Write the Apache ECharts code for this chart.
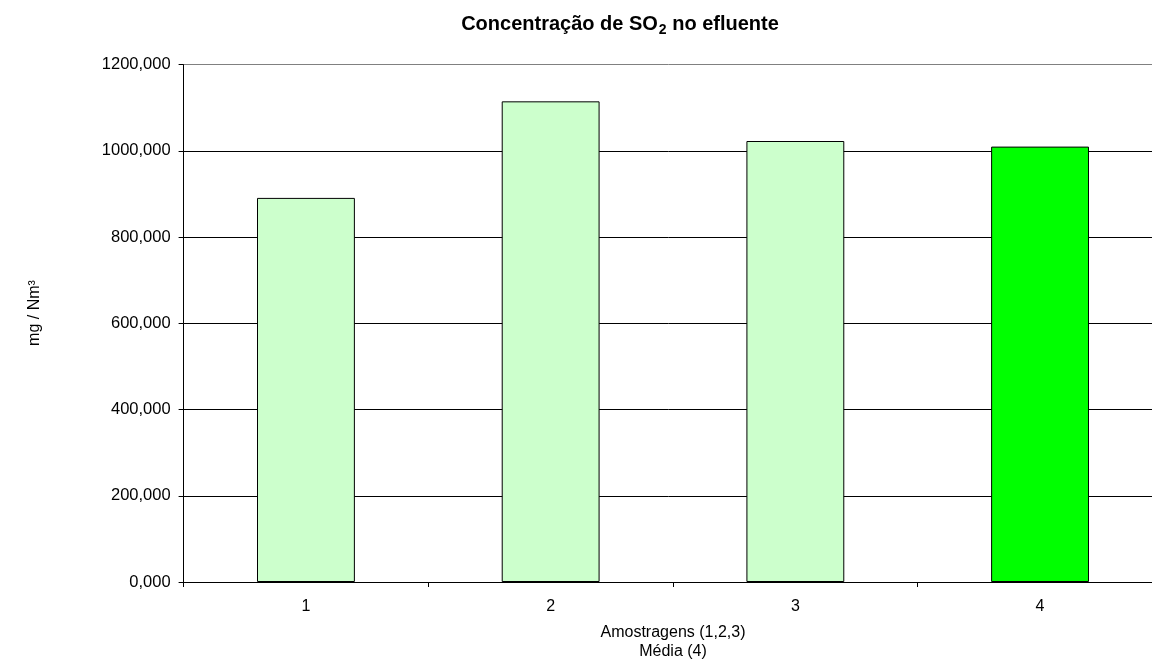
<!DOCTYPE html>
<html>
<head>
<meta charset="utf-8">
<script src="https://cdn.jsdelivr.net/npm/echarts@6/dist/echarts.min.js"></script>
<style>
html,body{margin:0;padding:0;background:#fff;}
#chart{width:1152px;height:661px;}
</style>
</head>
<body>
<div id="chart"></div>
<script>
const categories = ['1', '2', '3', '4'];
const values = [891, 1115, 1023, 1010];
const barColors = ['#CCFFCC', '#CCFFCC', '#CCFFCC', '#00FF00'];
const yTicks = [0, 200, 400, 600, 800, 1000, 1200];
const titleParts = ['Concentração de SO', '2', ' no efluente'];
const yName = 'mg / Nm³';
const xName = 'Amostragens (1,2,3)\nMédia (4)';

const FONT = 'Liberation Sans, Arial, sans-serif';
const chart = echarts.init(document.getElementById('chart'));
chart.setOption({
  animation: false,
  backgroundColor: '#fff',
  textStyle: { fontFamily: FONT },
  graphic: [{
    type: 'text',
    x: 620,
    y: 24,
    style: {
      text: '{b|' + titleParts[0] + '}{s|' + titleParts[1] + '}{b|' + titleParts[2] + '}',
      align: 'center',
      verticalAlign: 'middle',
      fill: '#000',
      rich: {
        b: { fontSize: 20, fontWeight: 'bold', fontFamily: FONT, lineHeight: 26, verticalAlign: 'middle' },
        s: { fontSize: 14, fontWeight: 'bold', fontFamily: FONT, lineHeight: 26, verticalAlign: 'bottom', padding: [0, 0, 0, 1] }
      }
    }
  }, {
    type: 'text',
    x: 35,
    y: 313,
    rotation: Math.PI / 2,
    style: {
      text: yName,
      align: 'center',
      verticalAlign: 'middle',
      fill: '#000',
      fontSize: 16,
      fontFamily: FONT
    }
  }],
  grid: { left: 183.6, right: -10.4, top: 64.7, bottom: 79, containLabel: false, outerBoundsMode: 'none' },
  xAxis: {
    type: 'category',
    data: categories,
    axisLine: { show: true, lineStyle: { color: '#000', width: 1 } },
    axisTick: { show: true, alignWithLabel: false, length: 5, lineStyle: { color: '#000' } },
    axisLabel: { color: '#000', fontSize: 16, margin: 17, fontFamily: FONT },
    splitLine: { show: false },
    name: xName,
    nameLocation: 'middle',
    nameGap: 41,
    nameTextStyle: { color: '#000', fontSize: 16, lineHeight: 19, fontFamily: FONT }
  },
  yAxis: {
    type: 'value',
    min: yTicks[0],
    max: yTicks[yTicks.length - 1],
    interval: yTicks[1] - yTicks[0],
    axisLine: { show: true, lineStyle: { color: '#000', width: 1 } },
    axisTick: { show: true, length: 5, inside: false, lineStyle: { color: '#000' } },
    axisLabel: {
      color: '#000', fontSize: 16.5, margin: 13, fontFamily: FONT,
      formatter: v => v.toFixed(3).replace('.', ',')
    },
    splitLine: { show: true, lineStyle: { color: ['#000', '#000', '#000', '#000', '#000', '#000', '#808080'], width: 1 } }
  },
  series: [{
    type: 'bar',
    barWidth: '40%',
    data: values.map((v, i) => ({ value: v, itemStyle: { color: barColors[i] } })),
    itemStyle: { borderColor: '#000', borderWidth: 1 }
  }]
});
</script>
</body>
</html>
